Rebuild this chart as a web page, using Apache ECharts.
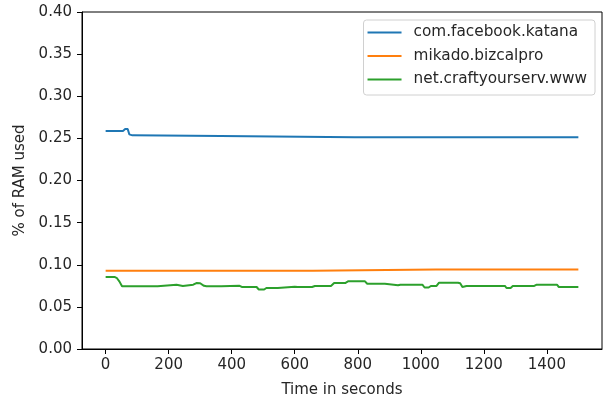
<!DOCTYPE html>
<html>
<head>
<meta charset="utf-8">
<script src="https://cdn.jsdelivr.net/npm/echarts@6/dist/echarts.min.js"></script>
<style>
  html, body { margin: 0; padding: 0; background: #fff; }
  #ramChart { width: 605px; height: 398px; }
</style>
</head>
<body>
<div id="ramChart"></div>
<script type="text/javascript">
// series names
var seriesNames = ['com.facebook.katana', 'mikado.bizcalpro', 'net.craftyourserv.www'];

// com.facebook.katana
var katanaTime = [0, 55, 62, 70, 75, 85, 90, 365, 370, 790, 795, 800, 1500];
var katanaPct  = [0.2588, 0.2588, 0.2611, 0.2611, 0.2548, 0.2536, 0.2528, 0.2528, 0.2513, 0.2513, 0.2528, 0.2513, 0.2513];

// mikado.bizcalpro
var bizcalTime = [0, 658, 662, 1048, 1051, 1054, 1436, 1439, 1442, 1500];
var bizcalPct  = [0.0930, 0.0930, 0.0945, 0.0945, 0.0960, 0.0945, 0.0945, 0.0960, 0.0945, 0.0945];

// net.craftyourserv.www
var craftTime = [0, 28, 36, 44, 52, 165, 170, 225, 230, 245, 250, 278, 288, 300, 312, 320, 367, 372, 425, 432,
                 479, 486, 503, 510, 546, 552, 600, 610, 655, 664, 715, 725, 760, 769, 823, 830, 886, 892, 928, 935,
                 1005, 1012, 1025, 1032, 1050, 1058, 1118, 1125, 1132, 1145, 1267, 1272, 1285, 1292, 1360, 1368, 1432, 1438, 1500];
var craftPct  = [0.0855, 0.0855, 0.0840, 0.0800, 0.0744, 0.0744, 0.0763, 0.0763, 0.0748, 0.0748, 0.0763, 0.0763, 0.0783, 0.0780, 0.0750, 0.0744, 0.0744, 0.0750, 0.0750, 0.0736,
                 0.0736, 0.0706, 0.0706, 0.0724, 0.0724, 0.0740, 0.0740, 0.0736, 0.0736, 0.0748, 0.0748, 0.0783, 0.0783, 0.0803, 0.0803, 0.0775, 0.0775, 0.0756, 0.0756, 0.0763,
                 0.0763, 0.0730, 0.0730, 0.0748, 0.0748, 0.0787, 0.0787, 0.0780, 0.0736, 0.0748, 0.0748, 0.0724, 0.0724, 0.0748, 0.0748, 0.0763, 0.0763, 0.0736, 0.0736];

// axis ticks
var xTicks = [0, 200, 400, 600, 800, 1000, 1200, 1400];
var colors = ['#1f77b4', '#ff7f0e', '#2ca02c'];

function pairs(t, v) {
	var out = [];
	for (var i = 0; i < t.length; i++) { out.push([t[i], v[i]]); }
	return out;
}

var font = 'DejaVu Sans';
var txt = '#262626';
var fs = 15;

var myChart = echarts.init(document.getElementById('ramChart'));
var option = {
	animation: false,
	color: colors,
	textStyle: { fontFamily: font },
	grid: {
		left: 82, right: 3, top: 12, bottom: 49,
		outerBoundsMode: 'none',
		show: true, borderColor: '#000', borderWidth: 1, backgroundColor: 'transparent'
	},
	legend: {
		orient: 'vertical',
		right: 10, top: 20,
		padding: [4, 8, 7, 4],
		itemWidth: 34, itemHeight: 2, itemGap: 6.5,
		icon: 'rect',
		borderColor: '#d0d0d0', borderWidth: 1, borderRadius: 3,
		textStyle: { fontFamily: font, fontSize: 15.3, color: txt, lineHeight: 17, padding: [0, 0, 0, 7] },
		data: seriesNames
	},
	xAxis: {
		type: 'value',
		min: -75, max: 1575,
		name: 'Time in seconds',
		nameLocation: 'middle',
		nameGap: 34,
		nameTextStyle: { fontFamily: font, fontSize: fs, color: txt },
		axisLine: { show: true, onZero: false, lineStyle: { color: '#000', width: 1 } },
		axisTick: { show: true, length: 5, lineStyle: { color: '#000' }, customValues: xTicks },
		axisLabel: {
			fontFamily: font, fontSize: fs, color: txt, margin: 9, customValues: xTicks,
			formatter: function (v) { return String(v); }
		},
		splitLine: { show: false }
	},
	yAxis: {
		type: 'value',
		min: 0, max: 0.4, interval: 0.05,
		name: '% of RAM used',
		nameLocation: 'middle',
		nameGap: 53,
		nameTextStyle: { fontFamily: font, fontSize: fs, color: txt },
		axisLine: { show: true, onZero: false, lineStyle: { color: '#000', width: 1 } },
		axisTick: { show: true, length: 5, lineStyle: { color: '#000' } },
		axisLabel: {
			fontFamily: font, fontSize: fs, color: txt, margin: 10,
			formatter: function (v) { return v.toFixed(2); }
		},
		splitLine: { show: false }
	},
	series: [{
		name: seriesNames[0], type: 'line', showSymbol: false, symbol: 'none',
		lineStyle: { width: 2 }, data: pairs(katanaTime, katanaPct)
	}, {
		name: seriesNames[1], type: 'line', showSymbol: false, symbol: 'none',
		lineStyle: { width: 2 }, data: pairs(bizcalTime, bizcalPct)
	}, {
		name: seriesNames[2], type: 'line', showSymbol: false, symbol: 'none',
		lineStyle: { width: 2 }, data: pairs(craftTime, craftPct)
	}]
};
myChart.setOption(option);
</script>
</body>
</html>
